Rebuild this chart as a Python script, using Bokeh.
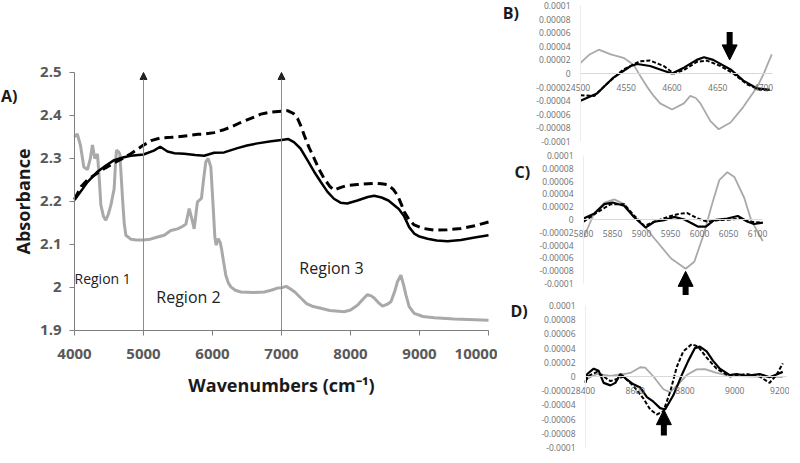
from bokeh.plotting import figure
from bokeh.layouts import row, column
from bokeh.models import (Arrow, NormalHead, Label, FixedTicker, NumeralTickFormatter, Range1d,
                          LinearAxis)
from bokeh.embed import file_html
from bokeh.resources import INLINE

FONT = "Open Sans"

# ---------------- Panel A data (absorbance spectra) ----------------
solid_x = [4000, 4100, 4188, 4333, 4450, 4575, 4700, 4816, 5000, 5150, 5242, 5348, 5450, 5589,
           5750, 5879, 6024, 6169, 6362, 6500, 6652, 6850, 7000, 7100, 7180, 7275, 7380, 7473,
           7570, 7667, 7760, 7855, 7952, 8100, 8250, 8343, 8450, 8550, 8633, 8700, 8778, 8850,
           8923, 9000, 9116, 9250, 9406, 9600, 9800, 10000]
solid_y = [2.203, 2.225, 2.245, 2.269, 2.283, 2.296, 2.302, 2.306, 2.309, 2.318, 2.327, 2.316,
           2.312, 2.311, 2.308, 2.306, 2.313, 2.314, 2.324, 2.330, 2.335, 2.340, 2.343, 2.345,
           2.338, 2.323, 2.295, 2.269, 2.245, 2.222, 2.206, 2.197, 2.195, 2.202, 2.210, 2.213,
           2.209, 2.202, 2.191, 2.182, 2.165, 2.140, 2.125, 2.118, 2.113, 2.109, 2.107, 2.110,
           2.116, 2.121]

dash_x = [4000, 4100, 4188, 4333, 4450, 4575, 4700, 4816, 5000, 5120, 5256, 5400, 5498, 5650,
          5787, 5900, 6024, 6150, 6266, 6400, 6556, 6700, 6845, 7000, 7087, 7170, 7232, 7290,
          7329, 7400, 7473, 7540, 7618, 7700, 7763, 7850, 7952, 8100, 8250, 8343, 8450, 8536,
          8620, 8681, 8740, 8778, 8850, 8923, 9050, 9213, 9400, 9600, 9800, 10000]
dash_y = [2.205, 2.235, 2.250, 2.266, 2.278, 2.290, 2.300, 2.311, 2.331, 2.342, 2.348, 2.349,
          2.350, 2.353, 2.356, 2.357, 2.360, 2.366, 2.373, 2.383, 2.393, 2.403, 2.408, 2.410,
          2.411, 2.405, 2.393, 2.372, 2.354, 2.325, 2.300, 2.276, 2.253, 2.235, 2.226, 2.232,
          2.237, 2.239, 2.241, 2.242, 2.241, 2.239, 2.228, 2.214, 2.192, 2.176, 2.157, 2.145,
          2.137, 2.133, 2.134, 2.137, 2.143, 2.152]

gray_x = [4000, 4040, 4087, 4135, 4188, 4230, 4260, 4294, 4333, 4360, 4382, 4420, 4454, 4490,
          4527, 4575, 4595, 4609, 4640, 4657, 4680, 4696, 4720, 4744, 4816, 4900, 5000, 5100,
          5203, 5300, 5396, 5493, 5570, 5614, 5662, 5700, 5734, 5760, 5782, 5840, 5870, 5903,
          5937, 5976, 6005, 6034, 6053, 6082, 6110, 6130, 6160, 6193, 6230, 6266, 6330, 6411,
          6600, 6749, 6850, 6942, 7000, 7068, 7110, 7193, 7280, 7363, 7460, 7570, 7700, 7908,
          8000, 8101, 8180, 8246, 8300, 8343, 8400, 8464, 8530, 8585, 8640, 8681, 8730, 8770,
          8802, 8850, 8923, 9050, 9213, 9500, 10000]
gray_y = [2.350, 2.357, 2.330, 2.280, 2.274, 2.300, 2.331, 2.300, 2.310, 2.250, 2.191, 2.165,
          2.156, 2.170, 2.191, 2.230, 2.290, 2.319, 2.315, 2.310, 2.250, 2.207, 2.150, 2.121,
          2.112, 2.110, 2.110, 2.112, 2.117, 2.121, 2.132, 2.136, 2.142, 2.147, 2.183, 2.160,
          2.136, 2.170, 2.199, 2.207, 2.250, 2.292, 2.300, 2.280, 2.200, 2.117, 2.098, 2.113,
          2.105, 2.090, 2.060, 2.028, 2.010, 2.001, 1.993, 1.989, 1.988, 1.989, 1.993, 1.998,
          1.999, 2.002, 1.998, 1.989, 1.975, 1.962, 1.955, 1.951, 1.946, 1.943, 1.947, 1.958,
          1.972, 1.983, 1.980, 1.975, 1.965, 1.956, 1.960, 1.966, 1.990, 2.013, 2.028, 2.005,
          1.983, 1.955, 1.939, 1.932, 1.929, 1.926, 1.923]

main_xticks = [4000, 5000, 6000, 7000, 8000, 9000, 10000]
main_yticks = [1.9, 2.0, 2.1, 2.2, 2.3, 2.4, 2.5]
region_marks = [5000, 7000]

# ---------------- Panel B data (second derivative) ----------------
b_gray_x = [4500, 4510, 4520, 4533, 4547, 4558, 4566, 4573, 4580, 4587, 4600, 4613, 4620, 4626,
            4631, 4642, 4651, 4664, 4678, 4693, 4700, 4709]
b_gray_y = [1.57e-5, 2.8e-5, 3.5e-5, 2.8e-5, 2.3e-5, 1.3e-5, -0.5e-5, -2.0e-5, -3.3e-5, -4.4e-5,
            -5.3e-5, -4.4e-5, -3.3e-5, -3.6e-5, -4.4e-5, -7.0e-5, -8.2e-5, -7.2e-5, -4.9e-5,
            -2.0e-5, -0.1e-5, 2.8e-5]
b_solid_x = [4500, 4518, 4536, 4555, 4562, 4576, 4591, 4600, 4613, 4627, 4635, 4645, 4664, 4678,
             4693, 4707]
b_solid_y = [-4.0e-5, -2.95e-5, -0.6e-5, 1.1e-5, 1.4e-5, 1.1e-5, 0.4e-5, 0.0, 0.86e-5, 2.0e-5,
             2.4e-5, 2.0e-5, 0.6e-5, -1.05e-5, -2.2e-5, -2.4e-5]
b_dash_x = [4500, 4515, 4529, 4547, 4565, 4576, 4591, 4602, 4613, 4627, 4638, 4653, 4667, 4682,
            4696, 4707]
b_dash_y = [-3.2e-5, -3.3e-5, -1.5e-5, 0.6e-5, 1.8e-5, 1.9e-5, 1.1e-5, 0.0, 0.5e-5, 1.7e-5,
            1.9e-5, 1.1e-5, 0.0, -1.6e-5, -2.4e-5, -2.5e-5]
b_xticks = [4500, 4550, 4600, 4650, 4700]

# ---------------- Panel C data ----------------
c_gray_x = [5800, 5818, 5836, 5853, 5870, 5887, 5905, 5928, 5951, 5976, 5991, 6008, 6020, 6034,
            6048, 6060, 6077, 6089, 6109]
c_gray_y = [-2.85e-5, 0.9e-5, 2.65e-5, 3.15e-5, 2.4e-5, 0.4e-5, -1.1e-5, -3.6e-5, -6.1e-5,
            -7.7e-5, -6.6e-5, -2.1e-5, 1.9e-5, 6.15e-5, 7.4e-5, 6.65e-5, 3.4e-5, -0.1e-5, -3.35e-5]
c_solid_x = [5800, 5818, 5836, 5850, 5870, 5887, 5907, 5922, 5939, 5956, 5974, 5997, 6011, 6025,
             6048, 6066, 6083, 6094, 6109]
c_solid_y = [0.15e-5, 0.9e-5, 2.4e-5, 2.65e-5, 2.15e-5, 0.4e-5, -1.25e-5, -0.35e-5, -0.1e-5,
             0.4e-5, 0.0, -1.1e-5, -1.1e-5, -0.1e-5, 0.15e-5, 0.55e-5, -0.35e-5, -0.7e-5, -0.5e-5]
c_dash_x = [5800, 5824, 5847, 5870, 5887, 5905, 5922, 5945, 5965, 5979, 5997, 6014, 6031, 6054,
            6071, 6089, 6109]
c_dash_y = [-0.35e-5, 1.15e-5, 2.4e-5, 2.4e-5, 0.65e-5, -1.0e-5, -0.35e-5, 0.4e-5, 0.9e-5, 1.0e-5,
            0.15e-5, -0.35e-5, -0.1e-5, 0.0, 0.15e-5, -0.35e-5, -0.5e-5]
c_xticks = [5800, 5850, 5900, 5950, 6000, 6050, 6100]

# ---------------- Panel D data ----------------
d_gray_x = [8400, 8447, 8500, 8553, 8580, 8620, 8640, 8673, 8713, 8740, 8773, 8807, 8847, 8880,
            8927, 8980, 9087, 9193]
d_gray_y = [-0.4e-5, 0.35e-5, 0.1e-5, 0.35e-5, 0.5e-5, 1.3e-5, 1.25e-5, 0.0, -1.8e-5, -2.2e-5,
            -1.1e-5, 0.2e-5, 1.0e-5, 1.05e-5, 0.5e-5, 0.1e-5, 0.0, -0.1e-5]
d_solid_x = [8400, 8407, 8433, 8453, 8473, 8500, 8520, 8540, 8567, 8593, 8620, 8647, 8673, 8700,
             8720, 8753, 8787, 8813, 8840, 8860, 8887, 8913, 8940, 8980, 9007, 9047, 9100, 9140,
             9173, 9193]
d_solid_y = [-0.9e-5, 0.35e-5, 1.1e-5, 0.8e-5, -0.9e-5, -1.25e-5, -0.9e-5, 0.35e-5, -0.45e-5,
             -1.1e-5, -1.55e-5, -2.9e-5, -3.55e-5, -4.45e-5, -4.65e-5, -2.65e-5, 0.2e-5, 2.2e-5,
             4.0e-5, 4.2e-5, 3.55e-5, 2.2e-5, 1.1e-5, 0.2e-5, 0.35e-5, 0.1e-5, 0.35e-5, -0.1e-5,
             0.35e-5, 0.65e-5]
d_dash_x = [8400, 8413, 8447, 8473, 8500, 8527, 8553, 8593, 8633, 8660, 8687, 8713, 8740, 8767,
            8793, 8827, 8853, 8887, 8927, 8980, 9047, 9100, 9140, 9167, 9193]
d_dash_y = [-0.65e-5, 0.1e-5, 0.65e-5, 0.0, -0.65e-5, -0.35e-5, 0.0, -1.35e-5, -3.1e-5, -4.65e-5,
            -5.35e-5, -4.9e-5, -2.2e-5, 1.35e-5, 3.55e-5, 4.55e-5, 4.2e-5, 2.65e-5, 1.1e-5, 0.0,
            0.35e-5, 0.0, -0.9e-5, 0.2e-5, 1.85e-5]
d_xticks = [8400, 8600, 8800, 9000, 9200]

small_yticks = [0.0001, 0.00008, 0.00006, 0.00004, 0.00002, 0.0, -0.00002, -0.00004, -0.00006,
                -0.00008, -0.0001]
small_ylabels = ["0.0001", "0.00008", "0.00006", "0.00004", "0.00002", "0", "-0.00002",
                 "-0.00004", "-0.00006", "-0.00008", "-0.0001"]

GRAY = "#a9a9a9"

# ================= Panel A =================
pa = figure(width=497, height=455, x_range=Range1d(2927.5, 10130.4),
            y_range=Range1d(1.6083, 2.6676), x_axis_location=None, y_axis_location=None,
            output_backend="svg", toolbar_location=None, min_border=0)
pa.grid.visible = False
pa.outline_line_color = None

xa = LinearAxis(fixed_location=1.9, bounds=(4000, 10000), ticker=FixedTicker(ticks=main_xticks),
                formatter=NumeralTickFormatter(format="0"),
                axis_label="Wavenumbers (cm\u207b\u00b9)")
ya = LinearAxis(fixed_location=4000, bounds=(1.9, 2.5), ticker=FixedTicker(ticks=main_yticks),
                formatter=NumeralTickFormatter(format="0.[0]"), axis_label="Absorbance")
pa.add_layout(xa, "below")
pa.add_layout(ya, "left")
for ax in (xa, ya):
    ax.axis_line_color = "#7f7f7f"
    ax.axis_line_width = 1
    ax.major_tick_line_color = "#7f7f7f"
    ax.major_tick_in = 0
    ax.major_tick_out = 5
    ax.minor_tick_line_color = None
    ax.major_label_text_font = FONT
    ax.major_label_text_font_style = "bold"
    ax.major_label_text_font_size = "15px"
    ax.major_label_text_color = "#595959"
    ax.axis_label_text_font = FONT
    ax.axis_label_text_font_style = "bold"
    ax.axis_label_text_font_size = "18px"
    ax.axis_label_text_color = "#1a1a1a"
xa.major_label_standoff = 14
xa.axis_label_standoff = 10
ya.major_label_standoff = 8
ya.axis_label_standoff = 2

for xm in region_marks:
    pa.add_layout(Arrow(end=NormalHead(size=7, fill_color="#222222", line_color="#222222"),
                        x_start=xm, y_start=1.9, x_end=xm, y_end=2.5,
                        line_color="#8c8c8c", line_width=1))

pa.line(gray_x, gray_y, line_color=GRAY, line_width=3)
pa.line(solid_x, solid_y, line_color="black", line_width=2.5)
pa.line(dash_x, dash_y, line_color="black", line_width=3, line_dash="9 5")

for txt, x, y, size, align in [("Region 1", 4000, 2.020, "14px", "left"),
                               ("Region 2", 5652, 1.978, "16px", "center"),
                               ("Region 3", 7725, 2.044, "16px", "center")]:
    pa.add_layout(Label(x=x, y=y, text=txt, text_font=FONT, text_font_size=size,
                        text_color="#222222", text_align=align, text_baseline="middle",
                        text_font_style="normal"))

pa.add_layout(Label(x=2935, y=2.446, text="A)", text_font=FONT, text_font_size="16px",
                    text_font_style="bold", text_color="#1a1a1a", text_baseline="middle"))


# ================= small panels =================
def small(xr, yr, h, x0, xend, xticks):
    p = figure(width=292, height=h, x_range=Range1d(*xr), y_range=Range1d(*yr),
               x_axis_location=None, y_axis_location=None,
               output_backend="svg", toolbar_location=None, min_border=0)
    p.grid.visible = False
    p.outline_line_color = None
    xa_ = LinearAxis(fixed_location=0, bounds=(x0, xend), ticker=FixedTicker(ticks=xticks),
                     formatter=NumeralTickFormatter(format="0"))
    ya_ = LinearAxis(fixed_location=x0, bounds=(-0.0001, 0.0001),
                     ticker=FixedTicker(ticks=small_yticks))
    ya_.major_label_overrides = dict(zip(small_yticks, small_ylabels))
    p.add_layout(xa_, "below")
    p.add_layout(ya_, "left")
    for ax in (xa_, ya_):
        ax.axis_line_color = "#d9d9d9"
        ax.major_tick_line_color = None
        ax.minor_tick_line_color = None
        ax.major_label_text_font = FONT
        ax.major_label_text_font_size = "8.5px"
        ax.major_label_text_color = "#6e6e6e"
        ax.major_label_standoff = 4
    ya_.axis_line_color = "#ececec"
    return p


def draw(p, gx, gy, sx, sy, dx, dy):
    p.line(gx, gy, line_color=GRAY, line_width=1.8)
    p.line(sx, sy, line_color="black", line_width=2.2)
    p.line(dx, dy, line_color="black", line_width=2, line_dash="4 2")


def block_arrow(p, x, y_tail, y_shaft_end, y_tip):
    p.segment(x0=[x], y0=[y_tail], x1=[x], y1=[y_shaft_end], line_color="black", line_width=6)
    p.add_layout(Arrow(end=NormalHead(size=15, fill_color="black", line_color="black"),
                       x_start=x, y_start=y_shaft_end, x_end=x, y_end=y_tip,
                       line_color="black", line_width=1))


def panel_label(p, x, y, t):
    p.add_layout(Label(x=x, y=y, text=t, text_font=FONT, text_font_size="16px",
                       text_font_style="bold", text_color="#1a1a1a", text_baseline="middle"))


pb = small((4409.3, 4728.4), (-1.1029e-4, 1.0735e-4), 148, 4500, 4710, b_xticks)
draw(pb, b_gray_x, b_gray_y, b_solid_x, b_solid_y, b_dash_x, b_dash_y)
block_arrow(pb, 4663, 6.1e-5, 3.2e-5, 2.0e-5)
panel_label(pb, 4415, 8.9e-5, "B)")

pc = small((5651.7, 6155.1), (-1.2031e-4, 1.1094e-4), 148, 5800, 6108, c_xticks)
draw(pc, c_gray_x, c_gray_y, c_solid_x, c_solid_y, c_dash_x, c_dash_y)
block_arrow(pc, 5976, -1.18e-4, -9.35e-5, -8.1e-5)
panel_label(pc, 5681, 7.5e-5, "C)")

pd = small((8046.2, 9220.1), (-1.1127e-4, 1.1268e-4), 159, 8400, 9210, d_xticks)
draw(pd, d_gray_x, d_gray_y, d_solid_x, d_solid_y, d_dash_x, d_dash_y)
block_arrow(pd, 8715, -8.3e-5, -5.8e-5, -4.67e-5)
panel_label(pd, 8098, 9.2e-5, "D)")

layout = row(pa, column(pb, pc, pd, spacing=0), spacing=0)

open("out.html", "w").write(file_html(layout, INLINE))
